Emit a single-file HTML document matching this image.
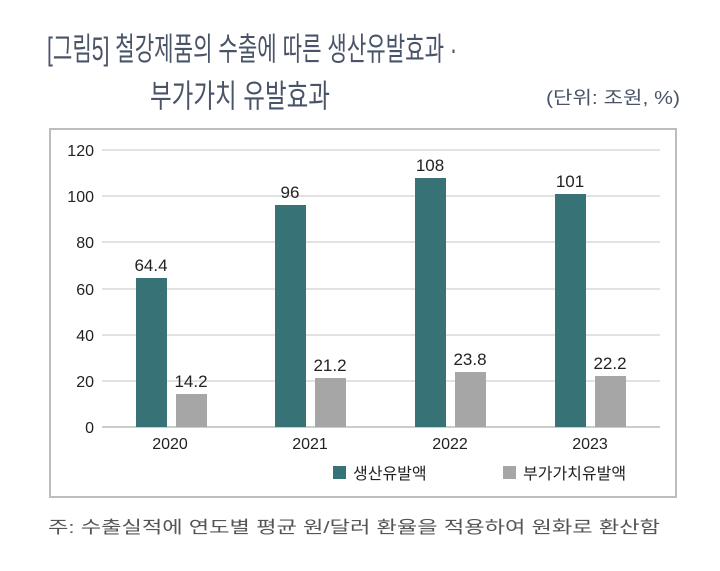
<!DOCTYPE html>
<html><head><meta charset="utf-8"><style>
body{margin:0;background:#fff;width:720px;height:566px;overflow:hidden;font-family:"Liberation Sans","Noto Sans CJK KR",sans-serif}
</style></head><body>
<svg width="720" height="566" xmlns="http://www.w3.org/2000/svg" font-family="Liberation Sans, Noto Sans CJK KR, sans-serif">
<text x="47" y="60" font-size="32" fill="#4a5468" textLength="410" lengthAdjust="spacingAndGlyphs">[그림5] 철강제품의 수출에 따른 생산유발효과 ·</text>
<text x="150" y="107" font-size="32" fill="#4a5468" textLength="180" lengthAdjust="spacingAndGlyphs">부가가치 유발효과</text>
<text x="546" y="104" font-size="18" fill="#4a5468" textLength="134" lengthAdjust="spacingAndGlyphs">(단위: 조원, %)</text>
<rect x="50" y="129" width="626" height="368" fill="none" stroke="#bdbdbd" stroke-width="2"/>
<g stroke="#d9d9d9" stroke-width="1.5">
<line x1="102" x2="660" y1="150" y2="150"/><line x1="102" x2="660" y1="196" y2="196"/>
<line x1="102" x2="660" y1="242" y2="242"/><line x1="102" x2="660" y1="289" y2="289"/>
<line x1="102" x2="660" y1="335" y2="335"/><line x1="102" x2="660" y1="381" y2="381"/>
</g>
<line x1="102" x2="660" y1="427" y2="427" stroke="#bbb" stroke-width="1.5"/>
<g font-size="16" fill="#222" text-anchor="end">
<text x="94" y="156">120</text><text x="94" y="202">100</text><text x="94" y="248">80</text>
<text x="94" y="295">60</text><text x="94" y="341">40</text><text x="94" y="387">20</text><text x="94" y="433">0</text>
</g>
<g fill="#367276">
<rect x="136" y="278" width="31" height="149"/>
<rect x="275" y="205" width="31" height="222"/>
<rect x="415" y="178" width="31" height="249"/>
<rect x="555" y="194" width="31" height="233"/>
</g>
<g fill="#a6a6a6">
<rect x="176" y="394" width="31" height="33"/>
<rect x="315" y="378" width="31" height="49"/>
<rect x="455" y="372" width="31" height="55"/>
<rect x="595" y="376" width="31" height="51"/>
</g>
<g font-size="17" fill="#222" text-anchor="middle">
<text x="151" y="271">64.4</text><text x="290" y="198">96</text><text x="430" y="171">108</text><text x="570" y="187">101</text>
<text x="191" y="387">14.2</text><text x="330" y="371">21.2</text><text x="470" y="365">23.8</text><text x="610" y="369">22.2</text>
</g>
<g font-size="16" fill="#222" text-anchor="middle">
<text x="170" y="449">2020</text><text x="310" y="449">2021</text><text x="450" y="449">2022</text><text x="590" y="449">2023</text>
</g>
<rect x="333" y="466" width="13" height="13" fill="#367276"/>
<text x="353" y="479" font-size="16" fill="#222">생산유발액</text>
<rect x="503" y="466" width="13" height="13" fill="#a6a6a6"/>
<text x="523" y="479" font-size="16" fill="#222">부가가치유발액</text>
<text x="48" y="533" font-size="17" fill="#555" textLength="612" lengthAdjust="spacingAndGlyphs">주: 수출실적에 연도별 평균 원/달러 환율을 적용하여 원화로 환산함</text>
</svg>
</body></html>
